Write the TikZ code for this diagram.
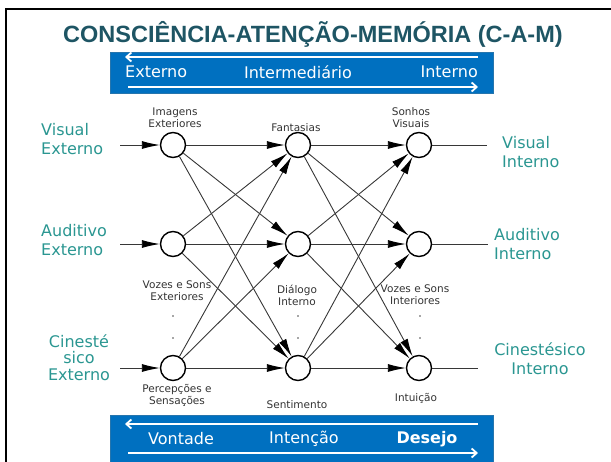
\documentclass[tikz,border=0pt]{standalone}
\usepackage{fontspec}
\setmainfont{DejaVu Sans}
\newfontfamily\titlefont{Liberation Sans}
\usetikzlibrary{arrows.meta, positioning}
\definecolor{camtitle}{RGB}{30,85,100}
\definecolor{camteal}{RGB}{42,150,145}
\definecolor{camblue}{RGB}{0,112,192}
\definecolor{camline}{RGB}{55,55,55}

\begin{document}
\begin{tikzpicture}[x=1pt, y=-1pt,
  neuron/.style={circle, draw, line width=1.4pt, fill=white, minimum size=25pt, inner sep=0pt},
  link/.style={draw=camline, line width=0.9pt, -{Latex[length=18pt, width=8pt, black]}},
  plain/.style={draw=camline, line width=0.9pt},
  caption/.style={font=\fontsize{10.5}{12}\selectfont, text=black!80, align=center, inner sep=0pt},
  dot/.style={circle, fill=black!70, inner sep=0pt, minimum size=1.8pt},
  side/.style={font=\fontsize{16}{19}\selectfont, text=camteal, inner sep=0pt},
  bar/.style={rectangle, fill=camblue, draw=camblue!70!gray, line width=0.6pt, minimum width=383pt},
  bartext/.style={font=\fontsize{16}{19}\selectfont, text=white, inner sep=0pt},
  barrow/.style={draw=white, line width=1.8pt, -{Straight Barb[length=5pt, width=9pt]}}]
\useasboundingbox (0,0) rectangle (611,461);
% frame and title
\draw[line width=2.5pt] (6,470) |- (620,9);
\node[font=\titlefont\bfseries\fontsize{23.5}{26}\selectfont, text=camtitle, inner sep=0pt] (title) at (313,34) {CONSCIÊNCIA-ATENÇÃO-MEMÓRIA (C-A-M)};

% upper bar
\node[bar, minimum height=41pt] (topbar) at (301.5,72.5) {};
\coordinate (t1) at (478,57);
\coordinate (t2) at (125,57);
\coordinate (t3) at (128,87);
\coordinate (t4) at (478,87);
\draw[barrow] (t1) -- (t2);
\draw[barrow] (t3) -- (t4);
\node[bartext, anchor=west] (ext) at (125,72) {Externo};
\node[bartext] (inter) at (298,72) {Intermediário};
\node[bartext, anchor=east] (int) at (478,72) {Interno};

% lower bar
\node[bar, minimum height=56pt] (botbar) at (301.5,443) {};
\coordinate (b1) at (478,424);
\coordinate (b2) at (125,424);
\coordinate (b3) at (128,453);
\coordinate (b4) at (478,453);
\draw[barrow] (b1) -- (b2);
\draw[barrow] (b3) -- (b4);
\node[bartext] (vontade) at (181,439) {Vontade};
\node[bartext] (intencao) at (304,439) {Intenção};
\node[bartext, font=\bfseries\fontsize{16}{19}\selectfont] (desejo) at (427,439) {Desejo};

% nodes
\node[neuron] (e1) at (173,145) {};
\node[neuron] (e2) at (173,244) {};
\node[neuron] (e3) at (173,368) {};
\node[neuron] (m1) at (298,145) {};
\node[neuron] (m2) at (298,244) {};
\node[neuron] (m3) at (298,368) {};
\node[neuron] (i1) at (419,145) {};
\node[neuron] (i2) at (419,244) {};
\node[neuron] (i3) at (419,368) {};

% connections
\coordinate (in1) at (120,145);
\coordinate (in2) at (120,244);
\coordinate (in3) at (120,368);
\coordinate (out1) at (487,145);
\coordinate (out2) at (488,244);
\coordinate (out3) at (478,368);
\draw[link] (in1) -- (e1);
\draw[link] (in2) -- (e2);
\draw[link] (in3) -- (e3);
\draw[link] (e1) -- (m1);
\draw[link] (e1) -- (m2);
\draw[link] (e1) -- (m3);
\draw[link] (e2) -- (m1);
\draw[link] (e2) -- (m2);
\draw[link] (e2) -- (m3);
\draw[link] (e3) -- (m1);
\draw[link] (e3) -- (m2);
\draw[link] (e3) -- (m3);
\draw[link] (m1) -- (i1);
\draw[link] (m1) -- (i2);
\draw[link] (m1) -- (i3);
\draw[link] (m2) -- (i1);
\draw[link] (m2) -- (i2);
\draw[link] (m2) -- (i3);
\draw[link] (m3) -- (i1);
\draw[link] (m3) -- (i2);
\draw[link] (m3) -- (i3);
\draw[plain] (i1) -- (out1);
\draw[plain] (i2) -- (out2);
\draw[plain] (i3) -- (out3);

% captions
\node[caption] (imagens) at (175,118) {Imagens\\Exteriores};
\node[caption] (fantasias) at (296,128) {Fantasias};
\node[caption] (sonhos) at (411,118) {Sonhos\\Visuais};
\node[caption] (vozesext) at (177,291) {Vozes e Sons\\Exteriores};
\node[caption] (dialogo) at (297,295) {Diálogo\\Interno};
\node[caption] (vozesint) at (415,295) {Vozes e Sons\\Interiores};
\node[caption] (percep) at (177,395) {Percepções e\\Sensações};
\node[caption] (sentimento) at (297,405) {Sentimento};
\node[caption] (intuicao) at (416,398) {Intuição};
\node[dot] (d1) at (173,316) {};
\node[dot] (d2) at (173,338) {};
\node[dot] (d3) at (298,316) {};
\node[dot] (d4) at (298,338) {};
\node[dot] (d5) at (420,316) {};
\node[dot] (d6) at (420,338) {};

% side labels
\node[side, anchor=west, align=left] (visext) at (41,139.5) {Visual\\Externo};
\node[side, anchor=west, align=left] (audext) at (41,240) {Auditivo\\Externo};
\node[side, align=center, font=\fontsize{16}{16.5}\selectfont] (cinext) at (79,357.5) {Cinesté\\sico\\Externo};
\node[side, anchor=west, align=left] (visint) at (502,152) {Visual\\Interno};
\node[side, anchor=west, align=left] (audint) at (494,244) {Auditivo\\Interno};
\node[side, align=center] (cinint) at (540,359) {Cinestésico\\Interno};
\end{tikzpicture}
\end{document}
